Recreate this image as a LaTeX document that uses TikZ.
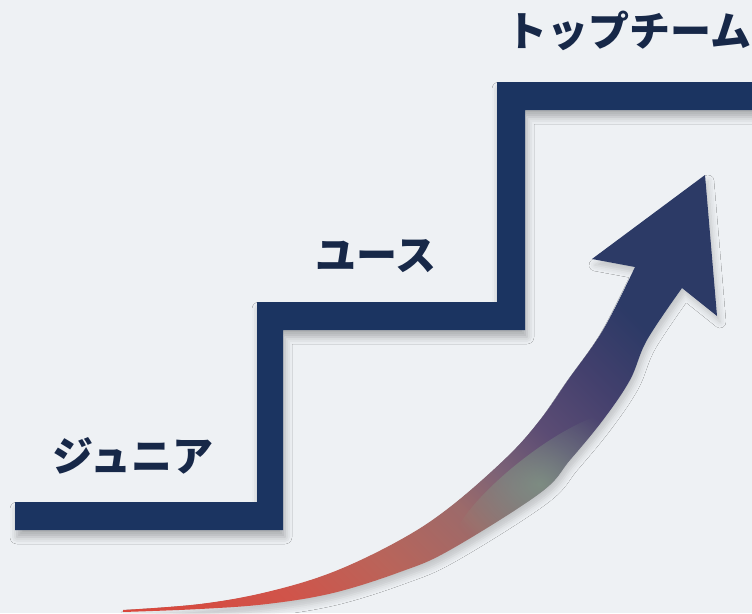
\documentclass[tikz,border=0pt]{standalone}
\usepackage{fontspec}
\newfontfamily\jp{Noto Sans CJK JP}
\usetikzlibrary{shadows.blur,fadings}
\definecolor{bg}{HTML}{EEF1F4}
\definecolor{stair}{HTML}{1B3461}
\definecolor{txt}{HTML}{172848}
\definecolor{arA}{HTML}{D9473C}
\definecolor{arB}{HTML}{D0544A}
\definecolor{arC}{HTML}{B9645A}
\definecolor{arD}{HTML}{9C6A6A}
\definecolor{arE}{HTML}{7C6276}
\definecolor{arF}{HTML}{5B4C74}
\definecolor{arG}{HTML}{43406D}
\definecolor{arH}{HTML}{2C3A66}
\definecolor{glowc}{HTML}{84A88A}
\pgfdeclarehorizontalshading{risegrad}{100bp}{color(0bp)=(arA); color(15bp)=(arA); color(27bp)=(arB); color(36bp)=(arC); color(45bp)=(arD); color(50bp)=(arE); color(56bp)=(arF); color(63bp)=(arG); color(70bp)=(arH); color(100bp)=(arH)}
\tikzfading[name=glowfade, inner color=transparent!15, outer color=transparent!100]
\tikzset{
  lbl/.style={text=txt, font=\jp\bfseries\fontsize{41}{41}\selectfont, inner sep=0pt, anchor=center},
}
\def\arrowpath{(123,611) -- plot[smooth,tension=0.6] coordinates {(123,610) (200,604) (267,592) (333,572) (400,540) (450,507) (507,457) (540,420) (568,380) (603,330) (635,267)} -- (592,259) -- (705,175) -- (717,316) -- (682,288) -- plot[smooth,tension=0.6] coordinates {(682,288) (647,340) (630,380) (603,420) (570,460) (540,493) (450,550) (400,572) (333,593) (267,604) (200,609) (123,612)} -- cycle}
\begin{document}
\begin{tikzpicture}[x=1pt,y=-1pt]
\fill[bg] (0,0) rectangle (752,613);
\useasboundingbox (0,0) rectangle (752,613);
% staircase
\fill[stair, blur shadow={shadow xshift=2pt, shadow yshift=-7pt, shadow blur radius=7pt, shadow opacity=28}]
  (15,502) -- (257,502) -- (257,302) -- (497,302) -- (497,82) -- (760,82)
  -- (760,110) -- (525,110) -- (525,330) -- (283,330) -- (283,530) -- (15,530) -- cycle;
% arrow shadow
\path[blur shadow={shadow xshift=3pt, shadow yshift=-6pt, shadow blur radius=6pt, shadow opacity=18}] \arrowpath;
% arrow body
\begin{scope}
  \clip \arrowpath;
  \shade[shading=risegrad, shading angle=45] \arrowpath;
  \fill[glowc, path fading=glowfade, fill opacity=0.75, rotate around={38:(540,484)}] (540,484) ellipse [x radius=110, y radius=30];
\end{scope}
% labels
\node[lbl] (junior) at (133,456) {ジュニア};
\node[lbl] (youth) at (376,256) {ユース};
\node[lbl] (top) at (629,31) {トップチーム};
\end{tikzpicture}
\end{document}
